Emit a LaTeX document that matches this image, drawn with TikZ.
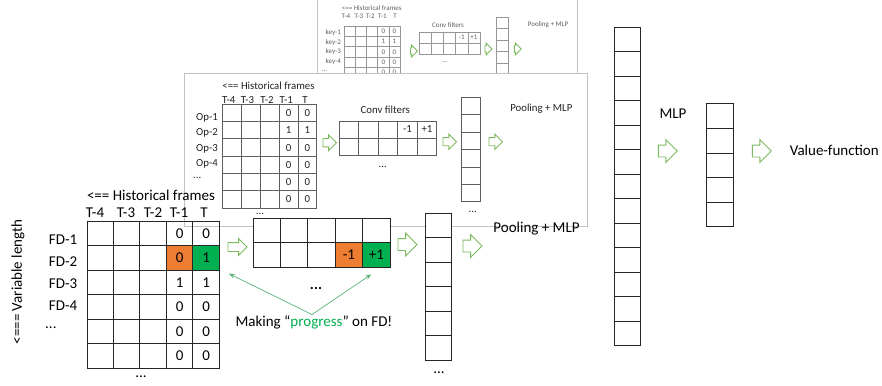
\documentclass[tikz,border=0pt]{standalone}
\usepackage{fontspec}
\setmainfont{Carlito}
\usetikzlibrary{shapes.arrows,arrows.meta}

\definecolor{orangec}{RGB}{237,125,49}
\definecolor{greenc}{RGB}{0,176,80}
\definecolor{arrowg}{RGB}{125,185,95}
\definecolor{pointerg}{RGB}{90,180,120}
\definecolor{panelgray}{RGB}{195,195,195}
\definecolor{midline}{RGB}{95,95,95}
\definecolor{topline}{RGB}{150,150,150}
\definecolor{midtext}{RGB}{35,35,35}
\definecolor{toptext}{RGB}{95,95,95}

\newcommand{\cellgrid}[8]{%
  \foreach \cc in {1,...,#4}{%
    \foreach \rr in {1,...,#5}{%
      \node[#8, minimum width=#6pt, minimum height=#7pt, anchor=north west]
        (#1-\rr-\cc) at ({#2+(\cc-1)*#6},{#3+(\rr-1)*#7}) {};
    }}}

\tikzset{
  fcell/.style={draw=black!85, line width=1pt, inner sep=0pt, outer sep=0pt},
  fwcell/.style={fcell, fill=white},
  mcell/.style={draw=midline, line width=0.8pt, inner sep=0pt, outer sep=0pt, fill=white},
  tcell/.style={draw=topline, line width=0.6pt, inner sep=0pt, outer sep=0pt, fill=white},
  panel/.style={draw=panelgray, line width=0.8pt, fill=white},
  ftext/.style={inner sep=0pt, text depth=0pt, font=\fontsize{15}{18}\selectfont},
  mtext/.style={inner sep=0pt, text depth=0pt, text=midtext, font=\fontsize{10.8}{13}\selectfont},
  ttext/.style={inner sep=0pt, text depth=0pt, text=toptext, font=\fontsize{7}{8.5}\selectfont},
  barrow/.style 2 args={single arrow, draw=arrowg, fill=white, line width=0.9pt,
    minimum height=#1pt, inner xsep=0pt, inner ysep=#2pt, single arrow head extend=#2pt,
    outer sep=0pt, anchor=tail},
  pointer/.style={draw=pointerg, line width=0.7pt, -{Stealth[length=6pt,width=4.5pt]}}
}

\begin{document}
\begin{tikzpicture}[x=1pt,y=-1pt]
\useasboundingbox (0,0) rectangle (882,385);
\fill[white] (0,0) rectangle (882,385);

% ================= top (back) panel =================
\path[panel] (317,-5) rectangle (577,80);
\node[ttext] (thist) at (371.7,8) {<== Historical frames};
\node[ttext] (th1) at (346,16.5) {T-4};
\node[ttext] (th2) at (359,16.5) {T-3};
\node[ttext] (th3) at (370.5,16.5) {T-2};
\node[ttext] (th4) at (382.5,16.5) {T-1};
\node[ttext] (th5) at (395,16.5) {T};
\cellgrid{ky}{344.3}{26}{5}{6}{11.14}{10.3}{tcell}
\node[ttext, anchor=east] (tk1) at (341,32.3) {key-1};
\node[ttext, anchor=east] (tk2) at (341,41.7) {key-2};
\node[ttext, anchor=east] (tk3) at (341,51.2) {key-3};
\node[ttext, anchor=east] (tk4) at (341,61) {key-4};
\node[ttext, anchor=west] (tk5) at (322,70.7) {...};
\node[ttext] (tv14) at (ky-1-4) {0}; \node[ttext] (tv15) at (ky-1-5) {0};
\node[ttext] (tv24) at (ky-2-4) {1}; \node[ttext] (tv25) at (ky-2-5) {1};
\node[ttext] (tv34) at (ky-3-4) {0}; \node[ttext] (tv35) at (ky-3-5) {0};
\node[ttext] (tv44) at (ky-4-4) {0}; \node[ttext] (tv45) at (ky-4-5) {0};
\node[ttext] (tv54) at (ky-5-4) {0}; \node[ttext] (tv55) at (ky-5-5) {0};
\node[barrow={7}{2.75}] (ta1) at (410.5,51) {};
\node[ttext] (tconv) at (448,25) {Conv filters};
\cellgrid{tcv}{419}{32}{5}{2}{12.2}{11}{tcell}
\node[ttext] (tm1) at (tcv-1-4) {-1};
\node[ttext] (tp1) at (tcv-1-5) {+1};
\node[ttext] (tcvdots) at (445,61.7) {...};
\node[barrow={7}{2.75}] (ta2) at (485,49) {};
\cellgrid{tvc}{496.7}{17.3}{1}{6}{11.6}{11.5}{tcell}
\node[barrow={7}{2.75}] (ta3) at (514.3,49) {};
\node[ttext] (tpool) at (548,24) {Pooling + MLP};

% ================= middle panel =================
\path[panel] (184,73.5) rectangle (587,226);
\node[mtext] (mhist) at (268.5,86) {<== Historical frames};
\node[mtext] (mh1) at (228.7,100) {T-4};
\node[mtext] (mh2) at (247.5,100) {T-3};
\node[mtext] (mh3) at (267,100) {T-2};
\node[mtext] (mh4) at (286.3,100) {T-1};
\node[mtext] (mh5) at (305,100) {T};
\cellgrid{op}{222.7}{104.3}{5}{6}{18.8}{17.28}{mcell}
\node[mtext, anchor=east] (ml1) at (218,117) {Op-1};
\node[mtext, anchor=east] (ml2) at (218,132.3) {Op-2};
\node[mtext, anchor=east] (ml3) at (218,147.6) {Op-3};
\node[mtext, anchor=east] (ml4) at (218,162.9) {Op-4};
\node[mtext, anchor=west] (ml5) at (193,178) {...};
\node[mtext] (mv14) at (op-1-4) {0}; \node[mtext] (mv15) at (op-1-5) {0};
\node[mtext] (mv24) at (op-2-4) {1}; \node[mtext] (mv25) at (op-2-5) {1};
\node[mtext] (mv34) at (op-3-4) {0}; \node[mtext] (mv35) at (op-3-5) {0};
\node[mtext] (mv44) at (op-4-4) {0}; \node[mtext] (mv45) at (op-4-5) {0};
\node[mtext] (mv54) at (op-5-4) {0}; \node[mtext] (mv55) at (op-5-5) {0};
\node[mtext] (mv64) at (op-6-4) {0}; \node[mtext] (mv65) at (op-6-5) {0};
\node[mtext] (mgdots) at (260,214.3) {...};
\node[barrow={13.5}{3.75}] (ma1) at (323,142.7) {};
\node[mtext] (mconv) at (385.3,110) {Conv filters};
\cellgrid{mcv}{339.3}{121}{5}{2}{19.48}{17}{mcell}
\node[mtext] (mm1) at (mcv-1-4) {-1};
\node[mtext] (mp1) at (mcv-1-5) {+1};
\node[mtext] (mcvdots) at (382.7,167) {...};
\node[barrow={13.5}{3.6}] (ma2) at (443,141.7) {};
\cellgrid{mvc}{461}{97.3}{1}{6}{19}{17.4}{mcell}
\node[mtext] (mvcdots) at (472.7,211.7) {...};
\node[barrow={13.5}{3.6}] (ma3) at (489,141.7) {};
\node[mtext] (mpool) at (541.3,108) {Pooling + MLP};

% ================= front panel =================
\node[ftext, rotate=90] (varlen) at (16.7,282) {<=== Variable length};
\node[ftext] (fhist) at (151,195) {<== Historical frames};
\node[ftext] (fh1) at (95,213) {T-4};
\node[ftext] (fh2) at (126,213) {T-3};
\node[ftext] (fh3) at (153,213) {T-2};
\node[ftext] (fh4) at (179,213) {T-1};
\node[ftext] (fh5) at (204,213) {T};
\cellgrid{fd}{87}{221}{5}{6}{26.46}{24.55}{fcell}
\draw[fcell, fill=orangec] (fd-2-4.north west) rectangle (fd-2-4.south east);
\draw[fcell, fill=greenc] (fd-2-5.north west) rectangle (fd-2-5.south east);
\node[ftext, anchor=east] (fl1) at (77.5,240) {FD-1};
\node[ftext, anchor=east] (fl2) at (77.5,261.5) {FD-2};
\node[ftext, anchor=east] (fl3) at (77.5,284) {FD-3};
\node[ftext, anchor=east] (fl4) at (77.5,306) {FD-4};
\node[ftext, anchor=west] (fl5) at (45,328) {...};
\node[ftext] (fv14) at (fd-1-4) {0}; \node[ftext] (fv15) at (fd-1-5) {0};
\node[ftext] (fv24) at (fd-2-4) {0}; \node[ftext] (fv25) at (fd-2-5) {1};
\node[ftext] (fv34) at (fd-3-4) {1}; \node[ftext] (fv35) at (fd-3-5) {1};
\node[ftext] (fv44) at (fd-4-4) {0}; \node[ftext] (fv45) at (fd-4-5) {0};
\node[ftext] (fv54) at (fd-5-4) {0}; \node[ftext] (fv55) at (fd-5-5) {0};
\node[ftext] (fv64) at (fd-6-4) {0}; \node[ftext] (fv65) at (fd-6-5) {0};
\node[ftext] (fgdots) at (141,376.7) {...};
\node[barrow={19}{4}] (fa1) at (228,247) {};
\cellgrid{cv}{253.3}{218.3}{5}{2}{27.34}{24.5}{fwcell}
\draw[fcell, fill=orangec] (cv-2-4.north west) rectangle (cv-2-4.south east);
\draw[fcell, fill=greenc] (cv-2-5.north west) rectangle (cv-2-5.south east);
\node[ftext] (fm1) at (cv-2-4) {-1};
\node[ftext] (fp1) at (cv-2-5) {+1};
\node[ftext, font=\fontsize{15}{18}\selectfont\bfseries] (fcvdots) at (316,288) {...};
\node[barrow={19}{5.5}] (fa2) at (398,244.5) {};
\cellgrid{vc}{425}{213}{1}{6}{26}{24.5}{fwcell}
\node[ftext] (fvcdots) at (439,373) {...};
\node[barrow={19}{5.5}] (fa3) at (463,246) {};
\node[ftext] (fpool) at (536.5,227) {Pooling + MLP};

% progress annotation
\node[ftext] (mk) at (314,321.5) {Making \textquotedblleft\textcolor{greenc}{progress}\textquotedblright{} on FD!};
\coordinate (mkTop) at (312,314.5);
\draw[pointer] (mkTop) -- ([shift={(9.5,3.5)}]fd-2-5.south east);
\draw[pointer] (mkTop) -- ([shift={(-5,7)}]cv-2-5.south);

% ================= right part =================
\cellgrid{bg}{614}{27.3}{1}{13}{26.7}{24.49}{fwcell}
\node[ftext] (mlp) at (673,114) {MLP};
\node[barrow={19}{5.5}] (ra1) at (658.3,151) {};
\cellgrid{sm}{706.7}{104}{1}{5}{26.6}{24.53}{fwcell}
\node[barrow={19}{5.5}] (ra2) at (752.3,151) {};
\node[ftext] (vf) at (834.3,150) {Value-function};
\end{tikzpicture}
\end{document}
